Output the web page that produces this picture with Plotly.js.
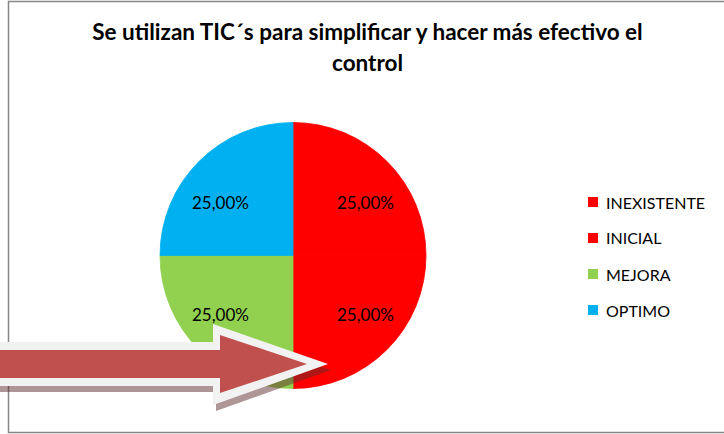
<!DOCTYPE html>
<html>
<head>
<meta charset="utf-8">
<script src="https://cdn.plot.ly/plotly-3.0.1.min.js"></script>
<style>
  html, body { margin: 0; padding: 0; background: #ffffff; }
  #chart { width: 724px; height: 434px; }
</style>
</head>
<body>
<div id="chart"></div>
<script>
// ---- data ----
const categories = ['INEXISTENTE', 'INICIAL', 'MEJORA', 'OPTIMO'];
const percentages = [25, 25, 25, 25];
const sliceColors = ['#FF0000', '#FF0000', '#92D050', '#00B0F0'];
const titleLines = ['Se utilizan TIC\u00B4s para simplificar y hacer m\u00E1s efectivo el', 'control'];

// ---- helpers (pixel -> paper) ----
const W = 724, H = 434;
const px = x => x / W;
const py = y => 1 - y / H;
function pathFromPixels(pts, dx, dy) {
  dx = dx || 0; dy = dy || 0;
  return pts.map((p, i) => (i ? 'L' : 'M') + px(p[0] + dx).toFixed(5) + ',' + py(p[1] + dy).toFixed(5)).join(' ') + ' Z';
}

const FONT = 'Lato, "Open Sans", sans-serif';

// pie geometry (pixels)
const PIE = { left: 160, right: 426, top: 122.5, bottom: 388.5 };
const cx = (PIE.left + PIE.right) / 2, cy = (PIE.top + PIE.bottom) / 2;
const R = (PIE.right - PIE.left) / 2;

const trace = {
  type: 'pie',
  labels: categories,
  values: percentages,
  sort: false,
  direction: 'clockwise',
  rotation: 0,
  marker: { colors: sliceColors, line: { color: sliceColors, width: 0.8 } },
  textinfo: 'none',
  hoverinfo: 'label+percent',
  showlegend: false,
  domain: { x: [px(PIE.left), px(PIE.right)], y: [py(PIE.bottom), py(PIE.top)] }
};

// arrow decoration (outer white outline, inner red)
const arrowOuter = [[-10, 342], [213, 342], [213, 324], [328, 364], [213, 405], [213, 386], [-10, 386]];
const arrowInner = [[-10, 350], [220, 350], [220, 335], [307, 364], [220, 393], [220, 378], [-10, 378]];

const shapes = [
  { type: 'rect', xref: 'paper', yref: 'paper', x0: px(8.5), x1: px(730), y0: py(432.5), y1: py(1.5),
    line: { color: '#878787', width: 1.5 }, fillcolor: 'rgba(0,0,0,0)', layer: 'below' }
];

const annotations = [
  { xref: 'paper', yref: 'paper', x: px(367.5), y: py(63), xanchor: 'center', yanchor: 'middle',
    text: titleLines[1], showarrow: false, font: { family: FONT, size: 22.5, color: '#000000', weight: 'bold' } }
];

// data labels: placed from each slice's mid-angle (derived from values)
const total = percentages.reduce((a, b) => a + b, 0);
let cum = 0;
percentages.forEach((v, i) => {
  const mid = (cum + v / 2) / total * 2 * Math.PI; // clockwise from 12 o'clock
  cum += v;
  const lx = cx + R * 0.776 * Math.sin(mid);
  const ly = cy - R * 0.595 * Math.cos(mid) + 3;
  const pct = (v / total * 100).toFixed(2).replace('.', ',') + '%';
  annotations.push({ xref: 'paper', yref: 'paper', x: px(lx), y: py(ly), xanchor: 'center', yanchor: 'middle',
    text: pct, showarrow: false, font: { family: FONT, size: 17, color: '#000000' } });
});

// manual legend (spaced like the original)
categories.forEach((c, i) => {
  const yc = 202 + 36 * i;
  shapes.push({ type: 'rect', xref: 'paper', yref: 'paper', x0: px(588), x1: px(598), y0: py(yc + 5), y1: py(yc - 5),
    fillcolor: sliceColors[i], line: { width: 0 } });
  annotations.push({ xref: 'paper', yref: 'paper', x: px(604), y: py(yc), xanchor: 'left', yanchor: 'middle',
    text: c, showarrow: false, font: { family: FONT, size: 16, color: '#000000' } });
});

// arrow on top
shapes.push({ type: 'path', xref: 'paper', yref: 'paper', path: pathFromPixels(arrowOuter, 3, 6),
  fillcolor: 'rgba(95,45,45,0.5)', line: { width: 0 }, layer: 'above' });
shapes.push({ type: 'path', xref: 'paper', yref: 'paper', path: pathFromPixels(arrowOuter),
  fillcolor: '#F2F2F2', line: { width: 0 }, layer: 'above' });
shapes.push({ type: 'path', xref: 'paper', yref: 'paper', path: pathFromPixels(arrowInner),
  fillcolor: '#C0504D', line: { width: 0 }, layer: 'above' });

const layout = {
  width: W, height: H,
  margin: { l: 0, r: 0, t: 0, b: 0 },
  paper_bgcolor: '#FFFFFF',
  separators: ',.',
  showlegend: false,
  title: {
    text: titleLines[0],
    x: px(367.5), xanchor: 'center',
    y: py(32), yanchor: 'middle',
    font: { family: FONT, size: 22.5, color: '#000000', weight: 'bold' }
  },
  shapes: shapes,
  annotations: annotations
};

Plotly.newPlot('chart', [trace], layout, { displayModeBar: false, staticPlot: true });
</script>
</body>
</html>
